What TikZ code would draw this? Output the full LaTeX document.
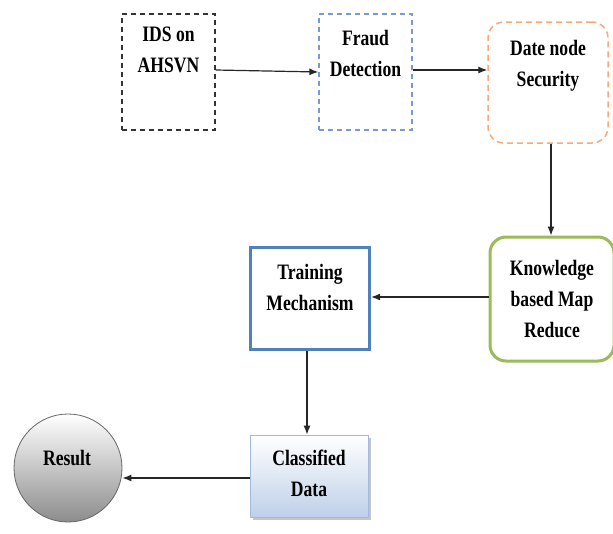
\documentclass[tikz,border=0pt]{standalone}
\usepackage{fontspec}
\setmainfont{Liberation Serif}[FakeStretch=0.8]
\usetikzlibrary{arrows.meta,shadows}
\definecolor{dashblue}{RGB}{120,155,205}
\definecolor{dashorange}{RGB}{248,170,120}
\definecolor{boxgreen}{RGB}{155,187,89}
\definecolor{boxblue}{RGB}{79,129,189}
\definecolor{cfill}{RGB}{190,208,232}
\definecolor{cborder}{RGB}{160,185,220}
\tikzset{
  x=1pt,y=-1pt,
  lbl/.style={font=\fontsize{22}{31}\selectfont\bfseries, align=center, inner sep=0pt, anchor=north},
  conn/.style={draw=black!85, line width=1.2pt, -{Latex[length=9pt,width=7pt]}},
}
\begin{document}
\begin{tikzpicture}
\useasboundingbox (0,0) rectangle (613,533);
% boxes
\node[draw=black!80, line width=1.3pt, dash pattern=on 5pt off 4pt, minimum width=93pt, minimum height=116pt, inner sep=0pt] (ids) at (168.5,72) {};
\node[draw=dashblue, line width=1.3pt, dash pattern=on 5pt off 4pt, minimum width=93pt, minimum height=116pt, inner sep=0pt] (fraud) at (365.5,72) {};
\node[draw=dashorange, line width=1.5pt, dash pattern=on 6pt off 4pt, rounded corners=16pt, minimum width=120pt, minimum height=121pt, inner sep=0pt] (date) at (548,82.5) {};
\node[draw=boxgreen, line width=3pt, rounded corners=16pt, minimum width=124pt, minimum height=124pt, inner sep=0pt] (know) at (552,299) {};
\node[draw=boxblue, line width=3.2pt, minimum width=119pt, minimum height=102pt, inner sep=0pt] (train) at (310,298.5) {};
\node[draw=cborder, line width=0.8pt, top color=white, bottom color=cfill, drop shadow={shadow xshift=3pt, shadow yshift=-3pt, fill=black!45}, minimum width=118pt, minimum height=82pt, inner sep=0pt] (class) at (309,476) {};
\node[draw=black!60, line width=0.8pt, circle, top color=white, bottom color=black!45, minimum size=108pt, inner sep=0pt] (res) at (68,468) {};
% labels
\node[lbl] at (168.5,27) {IDS on\\AHSVN};
\node[lbl] at (365.5,30) {Fraud\\Detection};
\node[lbl] at (548,40) {Date node\\Security};
\node[lbl] at (552,260) {Knowledge\\based Map\\Reduce};
\node[lbl] at (310,264) {Training\\Mechanism};
\node[lbl] at (309,450) {Classified\\Data};
\node[lbl] at (67,450) {Result};
% connectors
\draw[conn] (ids.east |- 0,70) -- (fraud.west |- 0,72);
\draw[conn] (fraud.east |- 0,70) -- (date.west |- 0,70);
\draw[conn] (date.south -| 551,0) -- (know.north -| 551,0);
\draw[conn] (know.west |- 0,297) -- (train.east |- 0,297);
\draw[conn] (train.south -| 307,0) -- (class.north -| 307,0);
\draw[conn] (class.west |- 0,478) -- (res.east |- 0,478);
\end{tikzpicture}
\end{document}
